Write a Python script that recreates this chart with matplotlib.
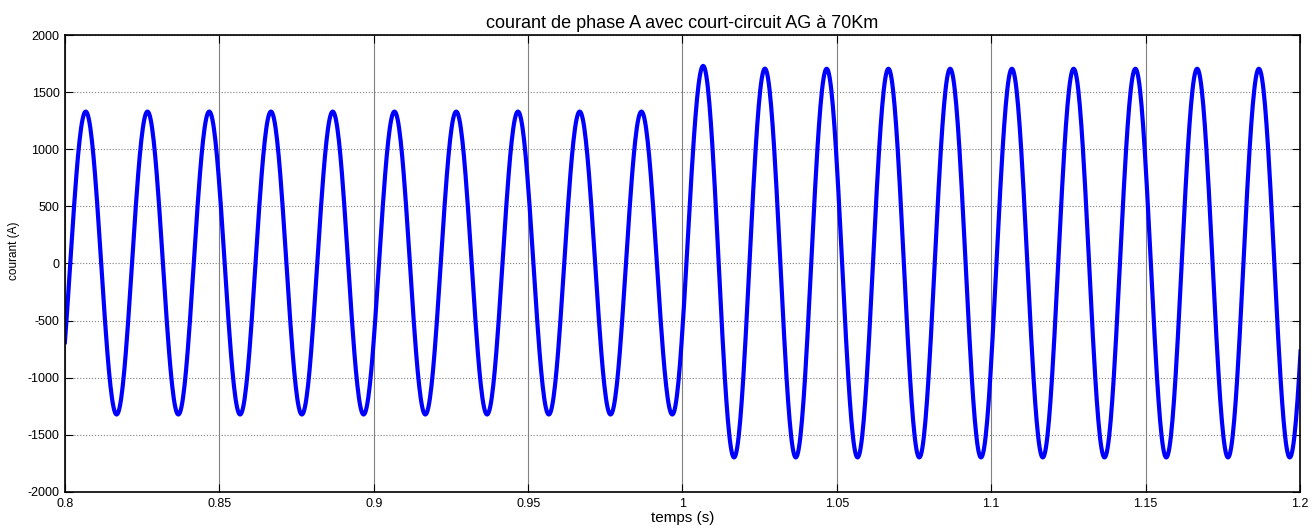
import numpy as np
import matplotlib
matplotlib.use("Agg")
import matplotlib.pyplot as plt

plt.rcParams['font.family'] = ['Liberation Sans', 'DejaVu Sans']
plt.rcParams['axes.unicode_minus'] = False

# Extremes (time in s, current in A)
# pre-fault (before 1.0 s)
pre_peak_t = [0.7967, 0.8067, 0.8167, 0.8267, 0.8367, 0.8467, 0.8567, 0.8667, 0.8767,
              0.8867, 0.8967, 0.9067, 0.9167, 0.9267, 0.9367, 0.9467, 0.9567, 0.9667,
              0.9767, 0.9867, 0.9967]
pre_peak_v = [-1322, 1330, -1322, 1330, -1322, 1330, -1322, 1330, -1322,
              1330, -1322, 1330, -1322, 1330, -1322, 1330, -1322, 1330,
              -1322, 1330, -1322]
# post-fault (after 1.0 s)
post_peak_t = [1.0067, 1.0167, 1.0267, 1.0367, 1.0467, 1.0567, 1.0667, 1.0767, 1.0867,
               1.0967, 1.1067, 1.1167, 1.1267, 1.1367, 1.1467, 1.1567, 1.1667, 1.1767,
               1.1867, 1.1967, 1.2067]
post_peak_v = [1730, -1698, 1706, -1698, 1705, -1698, 1705, -1698, 1705,
               -1698, 1705, -1698, 1705, -1698, 1705, -1698, 1705, -1698,
               1705, -1698, 1705]

x_ticks = [0.8, 0.85, 0.9, 0.95, 1.0, 1.05, 1.1, 1.15, 1.2]
x_tick_labels = ['0.8', '0.85', '0.9', '0.95', '1', '1.05', '1.1', '1.15', '1.2']
y_ticks = [-2000, -1500, -1000, -500, 0, 500, 1000, 1500, 2000]

title = 'courant de phase A avec court-circuit AG à 70Km'
xlabel = 'temps (s)'
ylabel = 'courant (A)'

# Build the trace: half-cosine shape between successive extremes
ext_t = np.array(pre_peak_t + post_peak_t)
ext_v = np.array(pre_peak_v + post_peak_v, dtype=float)
ts, vs = [], []
for i in range(len(ext_t) - 1):
    s = np.linspace(0, 1, 40, endpoint=False)
    ts.append(ext_t[i] + s * (ext_t[i + 1] - ext_t[i]))
    vs.append(ext_v[i] + (ext_v[i + 1] - ext_v[i]) * (1 - np.cos(np.pi * s)) / 2)
ts.append([ext_t[-1]])
vs.append([ext_v[-1]])
t = np.concatenate(ts)
v = np.concatenate(vs)

fig = plt.figure(figsize=(13.14, 5.28), dpi=100)
ax = fig.add_axes([0.0495, 0.0682, 0.9398, 0.8655])
ax.plot(t, v, color=(0, 0, 1), linewidth=3.0, solid_joinstyle='round')
ax.set_xlim(0.8, 1.2)
ax.set_ylim(-2000, 2000)
ax.set_xticks(x_ticks)
ax.set_xticklabels(x_tick_labels)
ax.set_yticks(y_ticks)
ax.tick_params(direction='in', length=6, width=0.8, top=True, right=True,
               labelsize=9, colors='black', pad=4)
ax.xaxis.grid(True, color='#808080', linestyle='-', linewidth=0.8)
ax.yaxis.grid(True, color='#808080', linestyle=':', linewidth=0.8)
ax.set_axisbelow(True)
for sp in ax.spines.values():
    sp.set_linewidth(1.2)
ax.set_title(title, fontsize=13, pad=5)
ax.set_xlabel(xlabel, fontsize=11, labelpad=1)
ax.set_ylabel(ylabel, fontsize=8.5)
ax.yaxis.set_label_coords(-0.0364, 0.527)
fig.savefig('out.png', dpi=100, facecolor='white')
